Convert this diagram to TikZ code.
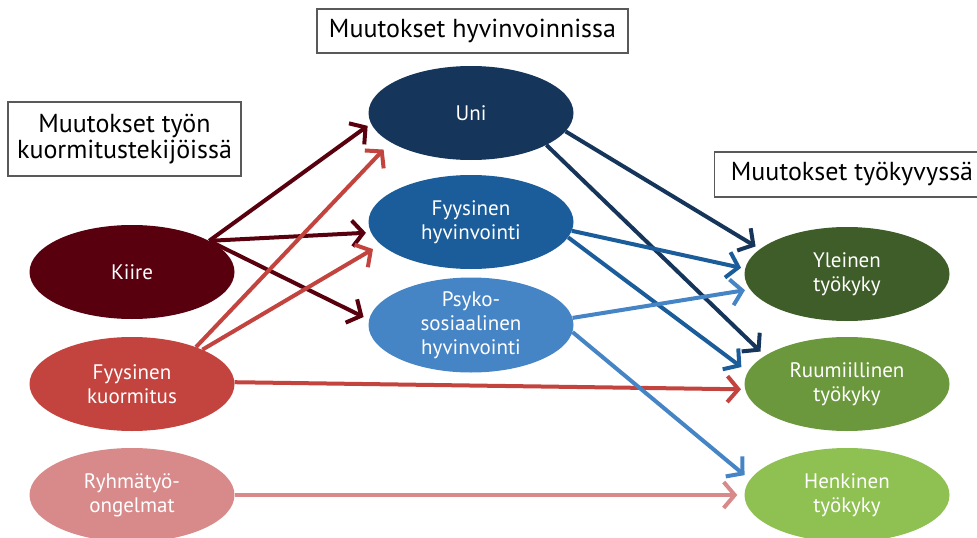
\documentclass[tikz,border=0pt]{standalone}
\usepackage{fontspec}
\setmainfont{PT Sans}
\usetikzlibrary{shapes,arrows.meta}
\definecolor{kiirecol}{HTML}{58000E}
\definecolor{kuormcol}{HTML}{C3443E}
\definecolor{ryhmacol}{HTML}{D88A8A}
\definecolor{unicol}{HTML}{16355B}
\definecolor{fyyscol}{HTML}{1B5C9A}
\definecolor{psykocol}{HTML}{4584C5}
\definecolor{yleincol}{HTML}{3E5D28}
\definecolor{ruumcol}{HTML}{6B983C}
\definecolor{henkcol}{HTML}{8EC052}

\begin{document}
\begin{tikzpicture}[x=1pt, y=-1pt,
  oval/.style={ellipse, minimum width=205pt, minimum height=94pt, inner sep=0pt, align=center, text=white,
    font=\fontsize{21}{24}\selectfont},
  heading/.style={rectangle, draw=black!65, line width=1.2pt, align=center, inner sep=0pt,
    font=\fontsize{26}{26}\selectfont},
  arr/.style={-{Straight Barb[length=11pt, width=26pt]}, line width=4pt}
]
  \useasboundingbox (0,0) rectangle (977,538);

  \node[heading, minimum width=311pt, minimum height=44pt] (hyvbox) at (472.5,31) {Muutokset hyvinvoinnissa};
  \node[heading, minimum width=233pt, minimum height=74pt] (kuormbox) at (124.5,139) {Muutokset työn\\kuormitustekijöissä};
  \node[heading, minimum width=275pt, minimum height=45pt] (tkbox) at (852,174.5) {Muutokset työkyvyssä};

  \node[oval, fill=kiirecol] (kiire) at (132,272) {Kiire};
  \node[oval, fill=kuormcol] (kuorm) at (132,384) {Fyysinen\\kuormitus};
  \node[oval, fill=ryhmacol] (ryhma) at (132,495) {Ryhmätyö-\\ongelmat};

  \node[oval, fill=unicol] (uni) at (471,113) {Uni};
  \node[oval, fill=fyyscol] (fyys) at (471,222) {Fyysinen\\hyvinvointi};
  \node[oval, fill=psykocol] (psyko) at (471,325) {Psyko-\\sosiaalinen\\hyvinvointi};

  \node[oval, fill=yleincol] (yleinen) at (847,274) {Yleinen\\työkyky};
  \node[oval, fill=ruumcol] (ruum) at (847,384) {Ruumiillinen\\työkyky};
  \node[oval, fill=henkcol] (henk) at (847,495) {Henkinen\\työkyky};

  \draw[arr, kiirecol, shorten >=4pt] (kiire.22) -- (uni.186);
  \draw[arr, kiirecol, shorten >=5pt] (kiire.22) -- (fyys.186);
  \draw[arr, kiirecol, shorten >=6pt] (kiire.22) -- (psyko.177);

  \draw[arr, kuormcol, shorten >=10pt] (kuorm.30) -- (uni.200);
  \draw[arr, kuormcol, shorten >=9pt] (kuorm.26) -- (fyys.194);
  \draw[arr, kuormcol, shorten >=4pt] (kuorm.1) -- (ruum.183);
  \draw[arr, ryhmacol, shorten >=7pt] (ryhma.0) -- (henk.180);

  \draw[arr, unicol, shorten >=5pt] (uni.349) -- (yleinen.164);
  \draw[arr, unicol, shorten >=6pt] (uni.337) -- (ruum.161);
  \draw[arr, fyyscol, shorten >=4pt] (fyys.355) -- (yleinen.177);
  \draw[arr, fyyscol, shorten >=8pt] (fyys.351) -- (ruum.173);
  \draw[arr, psykocol, shorten >=5pt] (psyko.4) -- (yleinen.189);
  \draw[arr, psykocol, shorten >=7pt] (psyko.356) -- (henk.171);
\end{tikzpicture}
\end{document}
